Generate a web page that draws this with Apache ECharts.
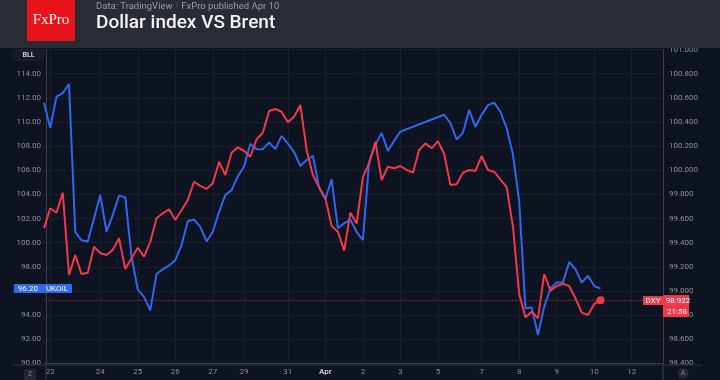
<!DOCTYPE html>
<html>
<head>
<meta charset="utf-8">
<script src="https://cdn.jsdelivr.net/npm/echarts@6/dist/echarts.min.js"></script>
<style>
html,body{margin:0;padding:0;background:#0d1320;}
#c{width:720px;height:380px;}
</style>
</head>
<body>
<div id="c"></div>
<script>
// ---- Data ----
const categoryCount = 100;
const tickIndex  = [1, 9, 15, 21, 27, 32, 39, 45, 51, 57, 63, 70, 76, 82, 88, 94];
const tickLabels = ['22','24','25','26','27','29','31','Apr','2','3','5','7','8','9','10','12'];

// UKOIL (Brent), left axis
const brent = [
  111.6, 109.5, 112.1, 112.4, 113.15, 100.9, 100.2, 100.1, 102.0, 103.95,
  100.9, 102.3, 103.9, 103.75, 98.85, 96.1, 95.5, 94.4, 97.4, 97.8,
  98.1, 98.55, 99.8, 101.8, 101.9, 101.3, 100.1, 100.9, 102.55, 103.95,
  104.35, 105.5, 106.3, 108.2, 107.75, 107.75, 108.3, 107.75, 108.85, 108.2,
  107.5, 106.35, 106.85, 107.2, 104.55, 103.6, 105.25, 101.2, 101.6, 101.9,
  100.9, 100.2, 106.7, 108.1, 109.1, 107.6, 108.45, 109.2, null, null,
  null, null, null, null, 110.6, 109.9, 108.55, 109.1, 111.0, 109.6,
  110.6, 111.4, 111.6, 110.85, 109.5, 107.3, 103.45, 94.55, 94.65, 92.35,
  94.7, 96.2, 96.7, 96.7, 98.4, 97.8, 96.7, 97.25, 96.4, 96.2
];

// DXY (Dollar index), right axis
const dxy = [
  99.52, 99.685, 99.648, 99.814, 99.132, 99.298, 99.140, 99.151, 99.367, 99.312,
  99.298, 99.340, 99.436, 99.182, 99.271, 99.358, 99.284, 99.408, 99.602, 99.643,
  99.677, 99.588, 99.671, 99.754, 99.905, 99.870, 99.845, 99.892, 100.071, 99.961,
  100.145, 100.190, 100.160, 100.112, 100.257, 100.311, 100.491, 100.508, 100.485, 100.397,
  100.444, 100.541, 100.168, 99.961, 99.859, 99.768, 99.538, 99.491, 99.334, 99.648,
  99.558, 99.942, 100.058, 100.237, 99.919, 100.029, 100.016, 100.035, 100.002, 99.980,
  100.168, 100.223, 100.182, 100.242, 100.135, 99.878, 99.884, 99.980, 100.002, 99.994,
  100.118, 100.002, 99.988, 99.923, 99.860, 99.532, 98.975, 98.782, 98.828, 98.773,
  99.140, 99.002, 99.041, 99.058, 99.041, 98.939, 98.820, 98.801, 98.892, 98.922
];

const brentLast = 96.20;
const dxyLast = 98.922;
const dxyTime = '21:58';

// ---- Chart ----
const BLUE = '#2f67f0';
const RED = '#f0394b';
const AXIS_TXT = '#8c909a';
const GRID = '#1a202b';
const AXIS_LINE = '#3a3f4a';

const cats = Array.from({length: categoryCount}, (_, i) => {
  const k = tickIndex.indexOf(i);
  return k >= 0 ? tickLabels[k] : '';
});
const isTick = (i) => tickIndex.indexOf(i) >= 0;

const chart = echarts.init(document.getElementById('c'), null, {renderer: 'canvas'});

const option = {
  backgroundColor: '#0d1320',
  animation: false,
  grid: {left: 44, right: 57, top: 49.6, bottom: 16.7},
  xAxis: {
    type: 'category',
    data: cats,
    boundaryGap: false,
    axisLine: {show: true, lineStyle: {color: AXIS_LINE, width: 1}},
    axisTick: {show: false},
    axisLabel: {
      interval: (i) => isTick(i),
      color: AXIS_TXT, fontSize: 8, fontFamily: 'Roboto', margin: 5,
      formatter: (v) => v === 'Apr' ? '{b|Apr}' : v,
      rich: {b: {fontWeight: 'bold', color: '#c3c6cc', fontSize: 8, fontFamily: 'Roboto'}}
    },
    splitLine: {show: true, interval: (i) => isTick(i), lineStyle: {color: GRID, width: 1}}
  },
  yAxis: [
    {
      type: 'value', min: 90, max: 116, interval: 2, position: 'left', offset: -2,
      axisLine: {show: true, lineStyle: {color: AXIS_LINE}},
      axisTick: {show: false},
      axisLabel: {color: AXIS_TXT, fontSize: 8, fontFamily: 'Roboto', margin: 5,
        showMaxLabel: false, formatter: (v) => v.toFixed(2)},
      splitLine: {show: true, lineStyle: {color: GRID, width: 1}}
    },
    {
      type: 'value', min: 98.4, max: 101, interval: 0.2, position: 'right',
      axisLine: {show: true, lineStyle: {color: AXIS_LINE}},
      axisTick: {show: false},
      axisLabel: {color: AXIS_TXT, fontSize: 8, fontFamily: 'Roboto', margin: 6,
        formatter: (v) => v.toFixed(3)},
      splitLine: {show: false}
    }
  ],
  series: [
    {
      name: 'UKOIL', type: 'line', data: brent, yAxisIndex: 0,
      showSymbol: false, connectNulls: true,
      lineStyle: {color: BLUE, width: 2}, itemStyle: {color: BLUE},
      z: 3,
      markLine: {
        silent: true, symbol: ['none', 'none'],
        lineStyle: {color: 'rgba(0,0,0,0)', width: 1},
        data: [{yAxis: brentLast}],
        label: {
          position: 'start', distance: -28,
          formatter: () => '{v|' + brentLast.toFixed(2) + '}{n|UKOIL}',
          rich: {
            v: {backgroundColor: BLUE, color: '#ffffff', fontSize: 8, fontFamily: 'Roboto', padding: [1, 4, 0, 4], lineHeight: 9},
            n: {backgroundColor: BLUE, color: '#ffffff', fontSize: 8, fontFamily: 'Roboto', padding: [1, 4, 0, 4], lineHeight: 9}
          }
        }
      }
    },
    {
      name: 'DXY', type: 'line', data: dxy, yAxisIndex: 1,
      showSymbol: false,
      lineStyle: {color: RED, width: 2}, itemStyle: {color: RED},
      z: 4,
      markPoint: {
        silent: true, symbol: 'circle', symbolSize: 8,
        itemStyle: {color: RED},
        label: {show: false},
        data: [{coord: [dxy.length - 1, dxy[dxy.length - 1]]}]
      },
      markLine: {
        silent: true, symbol: ['none', 'none'],
        lineStyle: {color: '#8a2d3a', type: 'dotted', width: 1},
        data: [{yAxis: dxyLast}],
        label: {
          position: 'end', distance: -20,
          formatter: () => '{s| }\n{n|DXY}{v|' + dxyLast.toFixed(3) + '}\n{e| }{t|' + dxyTime + '}',
          rich: {
            s: {fontSize: 8, lineHeight: 11, height: 11},
            n: {backgroundColor: RED, color: '#ffffff', fontSize: 8, fontFamily: 'Roboto', width: 20, align: 'center', lineHeight: 11, height: 9},
            v: {backgroundColor: RED, color: '#ffffff', fontSize: 8, fontFamily: 'Roboto', width: 22, padding: [0, 0, 0, 4], lineHeight: 11, height: 11},
            e: {fontSize: 8, width: 20, lineHeight: 11, height: 11},
            t: {backgroundColor: RED, color: '#ffffff', fontSize: 8, fontFamily: 'Roboto', width: 22, padding: [0, 0, 0, 4], lineHeight: 11, height: 11}
          }
        }
      }
    }
  ],
  graphic: [
    // header band
    {type: 'rect', x: 0, y: 0, shape: {width: 720, height: 48}, style: {fill: '#2a2c33'}, z: 100},
    {type: 'rect', x: 27, y: 0, shape: {width: 48, height: 41}, style: {fill: '#e8131b'}, z: 101},
    {type: 'text', x: 51, y: 20, z: 102, style: {text: 'FxPro', fill: '#ffffff',
      font: '15px "Liberation Serif", "DejaVu Serif", serif', textAlign: 'center', textVerticalAlign: 'middle'}},
    {type: 'text', x: 96, y: 6.5, z: 102, style: {
      text: '{a|Data: TradingView} {b|ǀ} {a|FxPro published Apr 10}',
      textVerticalAlign: 'middle',
      rich: {
        a: {fill: '#9a9da5', font: '9.5px Roboto'},
        b: {fill: '#5d6069', font: '9.5px Roboto'}
      }}},
    {type: 'text', x: 96, y: 23, z: 102, style: {text: 'Dollar index VS Brent', fill: '#f4f4f5',
      font: '500 19px Roboto', textVerticalAlign: 'middle'}},
    // BLL box
    {type: 'rect', x: 13, y: 50, shape: {width: 31, height: 10, r: 2}, style: {fill: '#141a26', stroke: '#1f2532', lineWidth: 1}, z: 102},
    {type: 'text', x: 28.5, y: 55.5, z: 103, style: {text: 'BLL', fill: '#c9ccd2', font: 'bold 7px Roboto', textAlign: 'center', textVerticalAlign: 'middle'}},
    // time-axis separator line and axis extensions
    {type: 'line', shape: {x1: 12, y1: 365, x2: 702, y2: 365}, style: {stroke: '#2c313c', lineWidth: 1}, z: 50},
    {type: 'line', shape: {x1: 46, y1: 363, x2: 46, y2: 380}, style: {stroke: AXIS_LINE, lineWidth: 1}, z: 50},
    {type: 'line', shape: {x1: 663, y1: 363, x2: 663, y2: 380}, style: {stroke: AXIS_LINE, lineWidth: 1}, z: 50},
    // Z button
    {type: 'rect', x: 24, y: 369, shape: {width: 12, height: 11, r: 3}, style: {fill: '#232834'}, z: 102},
    {type: 'text', x: 30, y: 374.5, z: 103, style: {text: 'Z', fill: '#7d818b', font: '7px Roboto', textAlign: 'center', textVerticalAlign: 'middle'}},
    // A button
    {type: 'circle', shape: {cx: 683, cy: 373.5, r: 5.5}, style: {fill: '#232834'}, z: 102},
    {type: 'text', x: 683, y: 373.5, z: 103, style: {text: 'A', fill: '#7d818b', font: '7px Roboto', textAlign: 'center', textVerticalAlign: 'middle'}}
  ]
};

chart.setOption(option);
</script>
</body>
</html>
